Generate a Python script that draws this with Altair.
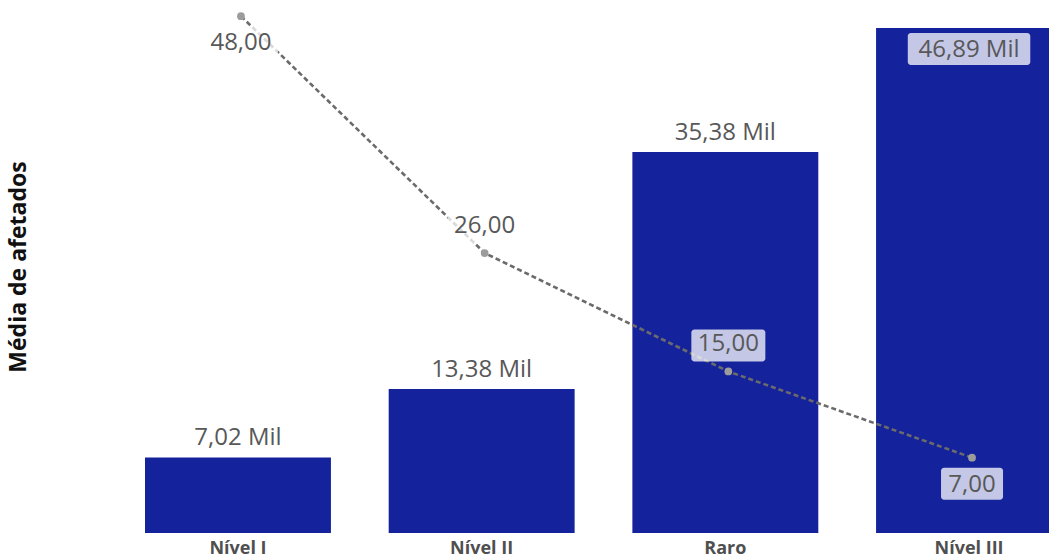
import altair as alt
import pandas as pd

# Dados do gráfico
categorias = ["Nível I", "Nível II", "Raro", "Nível III"]
media_afetados = [7020, 13380, 35380, 46890]
ocorrencias = [48, 26, 15, 7]

# Rótulos da linha posicionados abaixo do ponto
ROTULO_LINHA_ABAIXO = ["Nível I", "Nível III"]

FONT = "Open Sans"
AZUL = "#14229b"
CINZA_TXT = "#585858"

LEFT = 60
W = 1049 - LEFT
H = 533
BAR_MAX = 49490
LINE_MAX = 49.5
DX_LINHA = 3  # leve deslocamento horizontal da série de linha


def br(v, casas=2):
    return f"{v:.{casas}f}".replace(".", ",")


df = pd.DataFrame({
    "categoria": categorias,
    "media": media_afetados,
    "qtd": ocorrencias,
})
df["rotulo_barra"] = [br(v / 1000) + " Mil" for v in df["media"]]
df["rotulo_linha"] = [br(v) for v in df["qtd"]]
df["barra_dentro"] = df["media"] >= 0.9 * BAR_MAX
df["linha_abaixo"] = df["categoria"].isin(ROTULO_LINHA_ABAIXO)
df["larg_barra"] = [len(s) * 12.5 + 10 for s in df["rotulo_barra"]]
df["larg_linha"] = [len(s) * 12 + 14 for s in df["rotulo_linha"]]

x_enc = alt.X(
    "categoria:N",
    sort=categorias,
    scale=alt.Scale(domain=categorias, range=[145 - LEFT, 1062 - LEFT],
                    paddingInner=0.237, paddingOuter=0),
    axis=alt.Axis(title=None, labelAngle=0, ticks=False, domain=False,
                  labelFont=FONT, labelFontSize=18, labelFontWeight="bold",
                  labelColor="#4f4f4f", labelPadding=6, grid=False),
)

y_bar_scale = alt.Scale(domain=[0, BAR_MAX], nice=False, zero=True)
y_line_scale = alt.Scale(domain=[0, LINE_MAX], nice=False, zero=True)

base = alt.Chart(df)

barras = base.mark_bar(color=AZUL, clip=True).encode(
    x=x_enc,
    y=alt.Y("media:Q", scale=y_bar_scale,
            axis=alt.Axis(title="Média de afetados", labels=False, ticks=False,
                          domain=False, grid=False, titleFont=FONT,
                          titleFontSize=23, titleFontWeight="bold",
                          titleColor="#111111", titlePadding=30)),
)

rot_barra_fora = base.transform_filter("!datum.barra_dentro").mark_text(
    font=FONT, fontSize=24, color=CINZA_TXT, baseline="alphabetic", dy=-12
).encode(
    x=x_enc,
    y=alt.Y("media:Q", scale=y_bar_scale, axis=None),
    text="rotulo_barra:N",
)

caixa_barra_dentro = base.transform_filter("datum.barra_dentro").mark_bar(
    color="white", opacity=0.75, cornerRadius=3, yOffset=5, y2Offset=37
).encode(
    x=x_enc,
    y=alt.Y("media:Q", scale=y_bar_scale, axis=None),
    y2="media:Q",
    size=alt.Size("larg_barra:Q", scale=None, legend=None),
)

rot_barra_dentro = base.transform_filter("datum.barra_dentro").mark_text(
    font=FONT, fontSize=24, color=CINZA_TXT, baseline="middle", dy=22
).encode(
    x=x_enc,
    y=alt.Y("media:Q", scale=y_bar_scale, axis=None),
    text="rotulo_barra:N",
)

linha = base.mark_line(color="#6b6b6b", strokeWidth=2.6, strokeDash=[5, 3],
                       xOffset=DX_LINHA).encode(
    x=x_enc,
    y=alt.Y("qtd:Q", scale=y_line_scale, axis=None),
)

pontos = base.mark_point(filled=True, color="#9c9c9c", size=60, opacity=1,
                         xOffset=DX_LINHA).encode(
    x=x_enc,
    y=alt.Y("qtd:Q", scale=y_line_scale, axis=None),
)

caixa_linha_acima = base.transform_filter("!datum.linha_abaixo").mark_bar(
    color="white", opacity=0.75, cornerRadius=3, yOffset=-42, y2Offset=-10,
    xOffset=DX_LINHA
).encode(
    x=x_enc,
    y=alt.Y("qtd:Q", scale=y_line_scale, axis=None),
    y2="qtd:Q",
    size=alt.Size("larg_linha:Q", scale=None, legend=None),
)

caixa_linha_abaixo = base.transform_filter("datum.linha_abaixo").mark_bar(
    color="white", opacity=0.75, cornerRadius=3, yOffset=10, y2Offset=42,
    xOffset=DX_LINHA
).encode(
    x=x_enc,
    y=alt.Y("qtd:Q", scale=y_line_scale, axis=None),
    y2="qtd:Q",
    size=alt.Size("larg_linha:Q", scale=None, legend=None),
)

rot_linha_acima = base.transform_filter("!datum.linha_abaixo").mark_text(
    font=FONT, fontSize=24, color=CINZA_TXT, baseline="middle", dy=-27,
    dx=DX_LINHA
).encode(
    x=x_enc,
    y=alt.Y("qtd:Q", scale=y_line_scale, axis=None),
    text="rotulo_linha:N",
)

rot_linha_abaixo = base.transform_filter("datum.linha_abaixo").mark_text(
    font=FONT, fontSize=24, color=CINZA_TXT, baseline="middle", dy=27,
    dx=DX_LINHA
).encode(
    x=x_enc,
    y=alt.Y("qtd:Q", scale=y_line_scale, axis=None),
    text="rotulo_linha:N",
)

chart = alt.layer(
    barras, rot_barra_fora, caixa_barra_dentro, rot_barra_dentro,
    linha, pontos,
    caixa_linha_acima, caixa_linha_abaixo, rot_linha_acima, rot_linha_abaixo,
).resolve_scale(
    y="independent"
).properties(
    width=W, height=H,
    autosize=alt.AutoSizeParams(type="none"),
    padding={"left": LEFT, "top": 0, "right": 0, "bottom": 27},
    background="white",
).configure_view(stroke=None)

chart.save("out.html", embed_options={"renderer": "svg", "actions": False})
